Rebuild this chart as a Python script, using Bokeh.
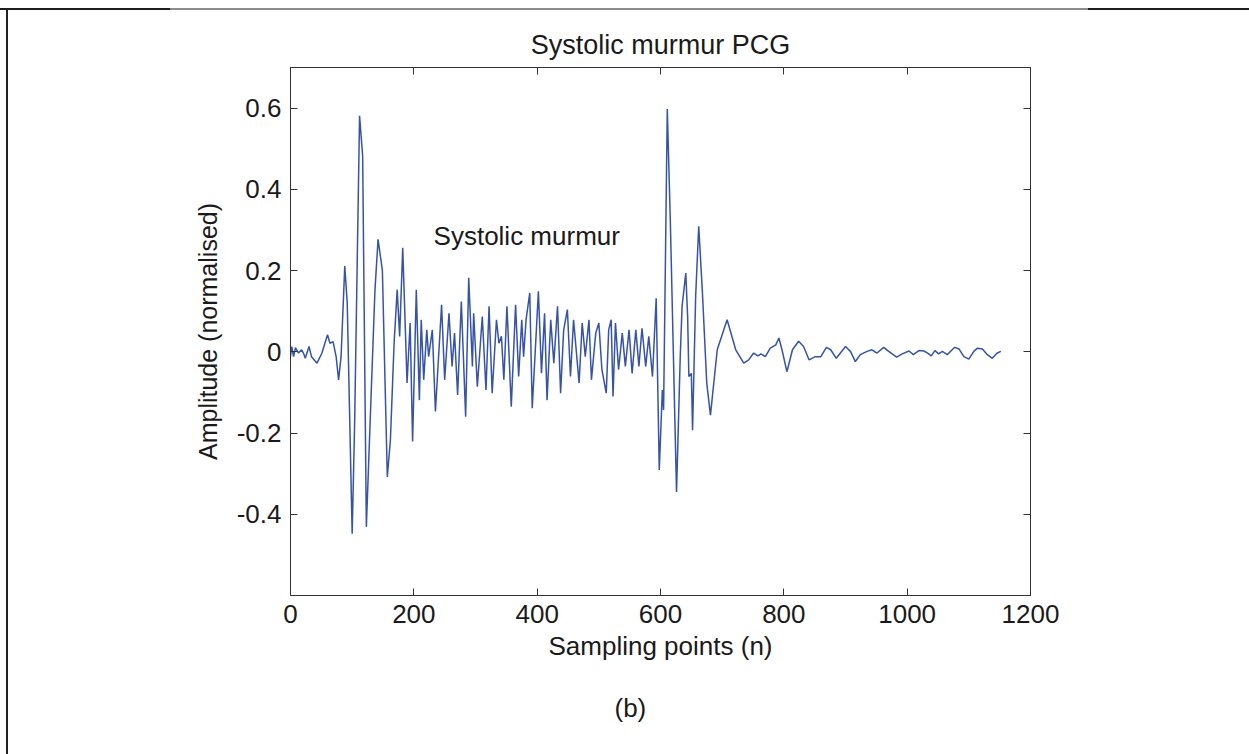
from bokeh.plotting import figure
from bokeh.models import FixedTicker, LinearAxis, Range1d, Label, Title
from bokeh.embed import file_html
from bokeh.resources import INLINE

# ---- data (sampling point, normalised amplitude) ----
sample_points = [
    0, 2, 5, 8, 13, 18, 21, 24, 30, 34, 43, 51, 60, 64, 69, 74, 78, 82, 88, 92,
    100, 104, 112, 117, 123, 131, 137, 142, 149, 157, 162, 168, 173, 177, 182, 189, 194, 198,
    204, 209, 212, 216, 221, 224, 230, 235, 245, 250, 257, 262, 266, 271, 277, 284, 289, 295,
    297, 303, 311, 317, 322, 327, 334, 338, 342, 346, 351, 358, 365, 370, 375, 378, 382, 388,
    392, 402, 407, 412, 416, 422, 427, 433, 438, 443, 449, 454, 459, 468, 473, 478, 484, 488,
    495, 500, 505, 512, 516, 520, 523, 527, 532, 538, 543, 549, 554, 560, 565, 570, 576, 581,
    587, 593, 598, 603, 605, 611, 616, 626, 632, 635, 641, 644, 646, 650, 652, 657, 662, 668,
    675, 681, 692, 708, 722, 735, 743, 751, 758, 763, 770, 778, 787, 792, 797, 805, 814, 824,
    832, 841, 851, 860, 869, 876, 885, 900, 908, 916, 924, 935, 943, 951, 962, 970, 983, 992,
    1003, 1010, 1019, 1027, 1032, 1039, 1045, 1051, 1057, 1065, 1073, 1077, 1084, 1092, 1100,
    1108, 1114, 1122, 1130, 1138, 1146, 1152,
]
amplitude = [
    -0.012, 0.013, -0.012, 0.010, -0.003, 0.005, -0.003, -0.016, 0.013, -0.012, -0.028, -0.003,
    0.042, 0.021, 0.025, -0.012, -0.069, -0.012, 0.211, 0.120,
    -0.448, -0.176, 0.581, 0.482, -0.431, -0.094, 0.153, 0.277, 0.200, -0.308, -0.217, 0.021,
    0.153, 0.038, 0.256, -0.077, 0.071, -0.221,
    0.153, -0.119, 0.079, -0.069, 0.054, -0.012, 0.054, -0.147, 0.116, -0.069, 0.095, -0.036,
    0.046, -0.106, 0.124, -0.160, 0.182, -0.036,
    0.095, -0.086, 0.087, -0.094, 0.112, -0.102, 0.079, 0.021, 0.038, -0.069, 0.112, -0.135,
    0.116, -0.061, 0.079, -0.012, 0.079, 0.145,
    -0.139, 0.149, -0.053, 0.095, -0.119, 0.079, -0.028, 0.112, -0.102, 0.054, 0.104, -0.061,
    0.079, -0.077, 0.071, -0.012, 0.079, -0.069,
    0.046, 0.071, -0.044, -0.102, 0.054, 0.079, -0.110, 0.071, -0.044, 0.046, -0.036, 0.054,
    -0.053, 0.054, -0.036, 0.058, -0.036, 0.038,
    -0.061, 0.132, -0.291, -0.094, -0.143, 0.598, 0.318, -0.345, -0.012, 0.112, 0.194, 0.087,
    -0.061, -0.053, -0.193, 0.137, 0.309, 0.145,
    -0.077, -0.156, 0.005, 0.079, 0.005, -0.028, -0.020, -0.003, -0.010, -0.005, -0.012, 0.009,
    0.017, 0.034, 0.005, -0.049, 0.005, 0.026,
    0.013, -0.020, -0.012, -0.012, 0.011, 0.005, -0.016, 0.013, 0.001, -0.024, -0.007, 0.001,
    0.005, -0.003, 0.011, 0.001, -0.013, -0.005,
    0.002, -0.007, 0.003, 0.002, -0.002, -0.010, 0.003, -0.005, 0.001, -0.007, 0.005, 0.011,
    0.007, -0.012, -0.018,
    0.001, 0.009, 0.007, -0.007, -0.016, -0.003, 0.001,
]

x_tick_values = [0, 200, 400, 600, 800, 1000, 1200]
x_tick_labels = ["0", "200", "400", "600", "800", "1000", "1200"]
y_tick_values = [-0.4, -0.2, 0, 0.2, 0.4, 0.6]
y_tick_labels = ["-0.4", "-0.2", "0", "0.2", "0.4", "0.6"]

title_text = "Systolic murmur PCG"
x_label = "Sampling points (n)"
y_label = "Amplitude (normalised)"
annotation_text = "Systolic murmur"
annotation_pos = (232, 0.286)
caption_text = "(b)"

FONT = "Liberation Sans"
TXT = "#1a1a1a"
AX = "#333333"
FS = "26px"

p = figure(
    width=1249, height=754, output_backend="svg", toolbar_location=None,
    x_range=Range1d(0, 1200), y_range=Range1d(-0.6, 0.7),
    min_border_left=290, min_border_right=219, min_border_top=67, min_border_bottom=159,
)
p.border_fill_color = None
p.background_fill_color = "white"
p.outline_line_color = AX
p.outline_line_width = 1
p.xgrid.visible = False
p.ygrid.visible = False

p.styles = {
    "background-color": "white",
    "background-image": "linear-gradient(to right, #1e1e1e 0px, #1e1e1e 170px, #8c8c8c 170px, #8c8c8c 1088px, #1e1e1e 1088px, #1e1e1e 1249px), linear-gradient(#222222, #222222)",
    "background-size": "1249px 2px, 2px 746px",
    "background-position": "0px 8px, 6px 8px",
    "background-repeat": "no-repeat",
}

xticker = FixedTicker(ticks=x_tick_values)
yticker = FixedTicker(ticks=y_tick_values)


def style_axis(ax, ticker, overrides, show_labels):
    ax.ticker = ticker
    ax.axis_line_color = AX
    ax.major_tick_line_color = AX
    ax.major_tick_in = 7
    ax.major_tick_out = 0
    ax.minor_tick_line_color = None
    ax.major_label_text_font = FONT
    ax.major_label_text_color = TXT
    if show_labels:
        ax.major_label_overrides = overrides
        ax.major_label_text_font_size = FS
        ax.major_label_standoff = 9
    else:
        # mirrored box ticks only, no labels
        ax.major_label_overrides = {v: "" for v in overrides}
        ax.major_label_text_font_size = "1px"
        ax.major_label_standoff = 0


xov = {v: s for v, s in zip(x_tick_values, x_tick_labels)}
yov = {v: s for v, s in zip(y_tick_values, y_tick_labels)}

style_axis(p.xaxis[0], xticker, xov, True)
style_axis(p.yaxis[0], yticker, yov, True)
p.xaxis[0].axis_label = x_label
p.yaxis[0].axis_label = y_label
for ax in (p.xaxis[0], p.yaxis[0]):
    ax.axis_label_text_font = FONT
    ax.axis_label_text_font_style = "normal"
    ax.axis_label_text_color = TXT
p.xaxis[0].axis_label_text_font_size = FS
p.yaxis[0].axis_label_text_font_size = "25px"
p.xaxis[0].axis_label_standoff = 5
p.yaxis[0].axis_label_standoff = 12

top_axis = LinearAxis()
style_axis(top_axis, xticker, xov, False)
p.add_layout(top_axis, "above")
right_axis = LinearAxis()
style_axis(right_axis, yticker, yov, False)
p.add_layout(right_axis, "right")

p.title.text = title_text
p.title.align = "center"
p.title.text_font = FONT
p.title.text_font_size = "27px"
p.title.text_font_style = "normal"
p.title.text_color = TXT
p.title.standoff = 16

caption = Title(text=caption_text, align="left", offset=324, text_font=FONT,
                text_font_size=FS, text_font_style="normal", text_color=TXT,
                standoff=54)
p.add_layout(caption, "below")

p.line(sample_points, amplitude, line_color="#3653a8", line_width=1.5)

p.add_layout(Label(x=annotation_pos[0], y=annotation_pos[1], text=annotation_text,
                   text_font=FONT, text_font_size=FS, text_color=TXT,
                   text_align="left", text_baseline="middle"))

open("out.html", "w").write(file_html(p, INLINE))
